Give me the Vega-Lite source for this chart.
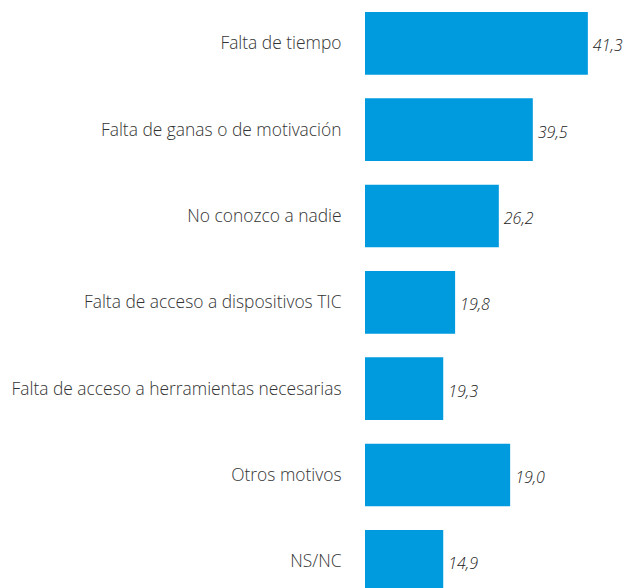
{
  "$schema": "https://vega.github.io/schema/vega-lite/v6.json",
  "autosize": {"type": "none"},
  "padding": {"left": 365, "top": 12, "right": 0, "bottom": 0},
  "width": 259,
  "height": 576,
  "background": "white",
  "config": {
    "view": {"stroke": null},
    "font": "Open Sans",
    "locale": {"number": {"decimal": ",", "thousands": ".", "grouping": [3], "currency": ["", " €"]}}
  },
  "data": {
    "values": [
      {"motivo": "Falta de tiempo", "valor": 41.3, "longitud": 41.3},
      {"motivo": "Falta de ganas o de motivación", "valor": 39.5, "longitud": 31.1},
      {"motivo": "No conozco a nadie", "valor": 26.2, "longitud": 24.8},
      {"motivo": "Falta de acceso a dispositivos TIC", "valor": 19.8, "longitud": 16.7},
      {"motivo": "Falta de acceso a herramientas necesarias", "valor": 19.3, "longitud": 14.5},
      {"motivo": "Otros motivos", "valor": 19.0, "longitud": 26.9},
      {"motivo": "NS/NC", "valor": 14.9, "longitud": 14.5}
    ]
  },
  "encoding": {
    "y": {
      "field": "motivo",
      "type": "nominal",
      "sort": null,
      "scale": {"range": [0, 580.7], "paddingInner": 0.274, "paddingOuter": 0},
      "axis": {
        "title": null,
        "domain": false,
        "ticks": false,
        "labelPadding": 24,
        "labelFontSize": 17.4,
        "labelFontWeight": 300,
        "labelColor": "#333333",
        "labelLimit": 400,
        "labelFont": "Open Sans",
        "labelOffset": 1
      }
    }
  },
  "layer": [
    {
      "mark": {"type": "bar", "color": "#009ADE"},
      "encoding": {
        "x": {"field": "longitud", "type": "quantitative", "scale": {"domain": [0, 48], "nice": false}, "axis": null}
      }
    },
    {
      "mark": {"type": "text", "align": "left", "dx": 5, "dy": 3, "fontSize": 16, "fontStyle": "italic", "fontWeight": 300, "color": "#222222", "font": "Open Sans"},
      "encoding": {
        "x": {"field": "longitud", "type": "quantitative"},
        "text": {"field": "valor", "type": "quantitative", "format": ".1f"}
      }
    }
  ]
}
